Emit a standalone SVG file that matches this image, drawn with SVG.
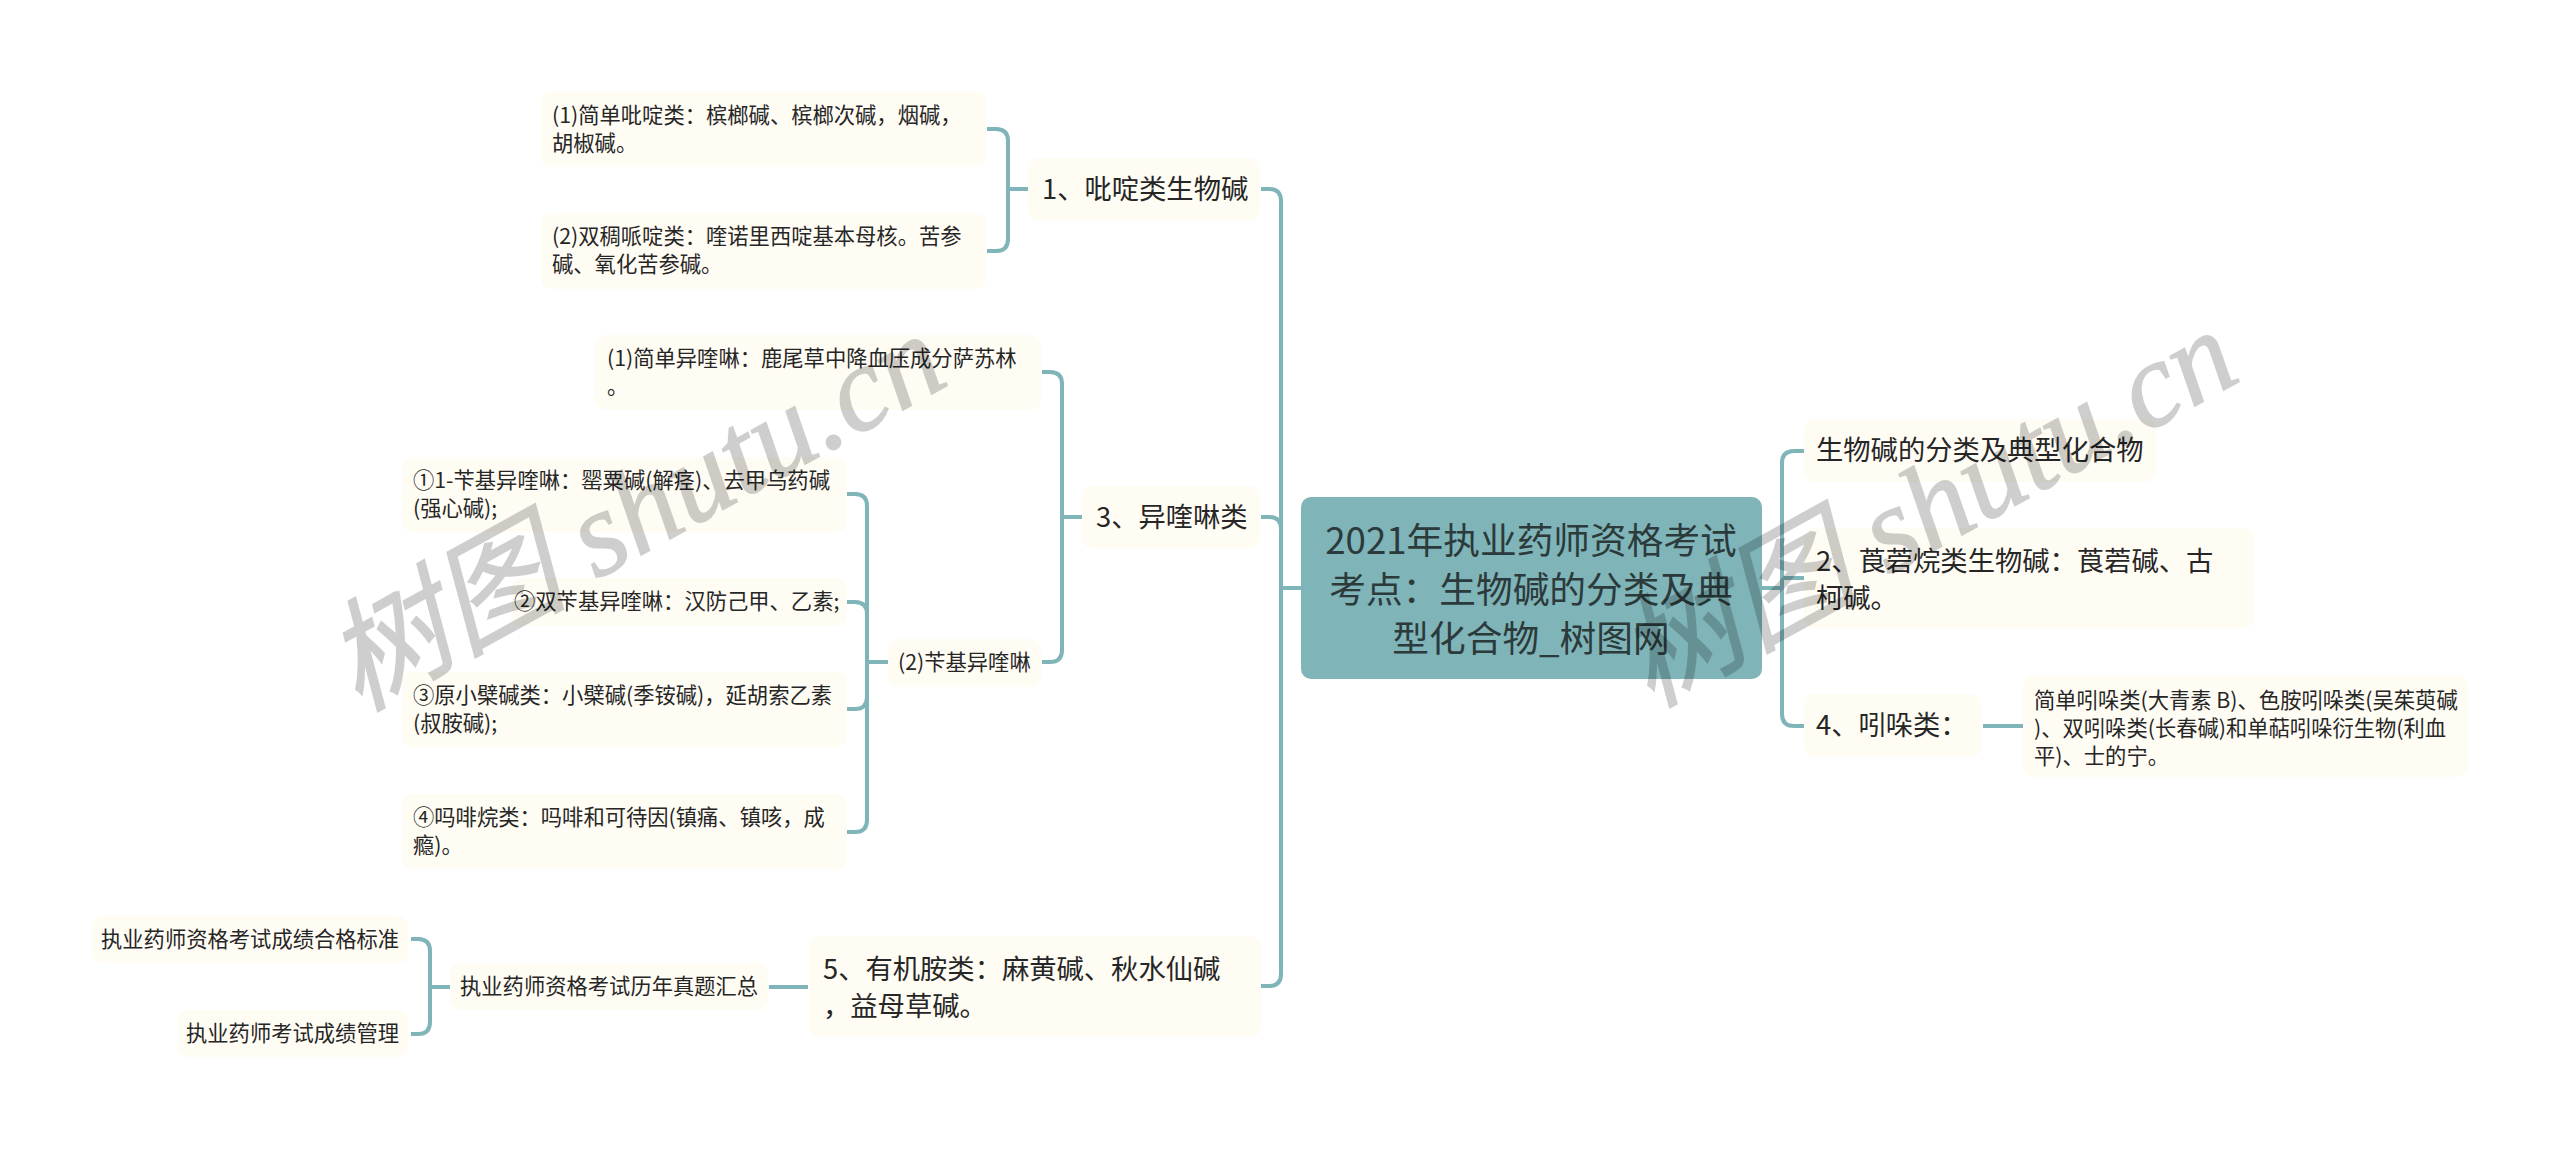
<svg xmlns="http://www.w3.org/2000/svg" width="2560" height="1149" viewBox="0 0 2560 1149">
<style>
text{font-family:"Noto Sans CJK SC","Noto Sans",sans-serif;fill:#262626}
.n{fill:#fffcf4}
.s{font-size:21.3px}
.m{font-size:27.3px}
.r{font-size:36.7px;fill:#2c3a3b;text-anchor:middle}
.c{fill:none;stroke:#7fb4b8;stroke-width:4;stroke-linecap:butt}
.w{font-family:"Liberation Serif","Noto Sans CJK SC",serif;font-style:italic;font-size:121px;fill:#000;stroke:#000;stroke-width:1.5;opacity:.19}
</style>
<rect width="2560" height="1149" fill="#fff"/>
<g id="connectors">
<path class="c" d="M1301 588H1281M1261 189H1269Q1281 189 1281 201V974Q1281 986 1269 986H1261M1261 517H1269Q1281 517 1281 529V540"/>
<path class="c" d="M987 129H996Q1008 129 1008 141V239Q1008 251 996 251H987M1008 189H1028"/>
<path class="c" d="M1042 372H1050Q1062 372 1062 384V650Q1062 662 1050 662H1042M1062 517H1082"/>
<path class="c" d="M847 494H855Q867 494 867 506V820Q867 832 855 832H847M847 602H855Q867 602 867 614M847 709H855Q867 709 867 697M867 662H888"/>
<path class="c" d="M411 939H418Q430 939 430 951V1022Q430 1034 418 1034H411M430 987H450M769 987H808"/>
<path class="c" d="M1762 588H1782M1804 451H1794Q1782 451 1782 463V714Q1782 726 1794 726H1804M1782 578H1804M1983 726H2023"/>
</g>
<g id="n-a1"><rect class="n" x="541" y="92" width="445" height="75" rx="10"/><text class="s" x="552" y="123">(1)简单吡啶类：槟榔碱、槟榔次碱，烟碱，</text><text class="s" x="552" y="151">胡椒碱。</text></g>
<g id="n-a2"><rect class="n" x="541" y="213" width="445" height="76" rx="10"/><text class="s" x="552" y="244">(2)双稠哌啶类：喹诺里西啶基本母核。苦参</text><text class="s" x="552" y="272">碱、氧化苦参碱。</text></g>
<g id="n-1"><rect class="n" x="1028" y="158" width="232" height="63" rx="10"/><text class="m" x="1042" y="199">1、吡啶类生物碱</text></g>
<g id="n-b1"><rect class="n" x="595" y="335" width="446" height="75" rx="10"/><text class="s" x="607" y="366">(1)简单异喹啉：鹿尾草中降血压成分萨苏林</text><text class="s" x="607" y="394">。</text></g>
<g id="n-3"><rect class="n" x="1082" y="486" width="178" height="62" rx="10"/><text class="m" x="1096" y="527">3、异喹啉类</text></g>
<g id="n-b2"><rect class="n" x="888" y="639" width="153" height="48" rx="10"/><text class="s" x="898" y="670">(2)苄基异喹啉</text></g>
<g id="n-c1"><rect class="n" x="402" y="457" width="445" height="75" rx="10"/><text class="s" x="413" y="488">①1-苄基异喹啉：罂粟碱(解痉)、去甲乌药碱</text><text class="s" x="413" y="516">(强心碱);</text></g>
<g id="n-c2"><rect class="n" x="512" y="578" width="335" height="48" rx="10"/><text class="s" x="514" y="609">②双苄基异喹啉：汉防己甲、乙素;</text></g>
<g id="n-c3"><rect class="n" x="402" y="672" width="445" height="75" rx="10"/><text class="s" x="413" y="703">③原小檗碱类：小檗碱(季铵碱)，延胡索乙素</text><text class="s" x="413" y="731">(叔胺碱);</text></g>
<g id="n-c4"><rect class="n" x="402" y="794" width="445" height="75" rx="10"/><text class="s" x="413" y="825">④吗啡烷类：吗啡和可待因(镇痛、镇咳，成</text><text class="s" x="413" y="853">瘾)。</text></g>
<g id="n-d1"><rect class="n" x="92" y="916" width="316" height="47" rx="10"/><text class="s" x="101" y="947">执业药师资格考试成绩合格标准</text></g>
<g id="n-d2"><rect class="n" x="177" y="1010" width="231" height="47" rx="10"/><text class="s" x="186" y="1041">执业药师考试成绩管理</text></g>
<g id="n-e"><rect class="n" x="450" y="963" width="318" height="47" rx="10"/><text class="s" x="460" y="994">执业药师资格考试历年真题汇总</text></g>
<g id="n-5"><rect class="n" x="809" y="936" width="452" height="101" rx="10"/><text class="m" x="823" y="979">5、有机胺类：麻黄碱、秋水仙碱</text><text class="m" x="823" y="1016">，益母草碱。</text></g>
<g id="root"><rect x="1301" y="497" width="461" height="182" rx="10" fill="#7fb4b8"/><text class="r" x="1531" y="554">2021年执业药师资格考试</text><text class="r" x="1531" y="603">考点：生物碱的分类及典</text><text class="r" x="1531" y="652">型化合物_树图网</text></g>
<g id="n-r1"><rect class="n" x="1804" y="419" width="352" height="63" rx="10"/><text class="m" x="1816" y="460">生物碱的分类及典型化合物</text></g>
<g id="n-r2"><rect class="n" x="1804" y="528" width="450" height="100" rx="10"/><text class="m" x="1816" y="571">2、莨菪烷类生物碱：莨菪碱、古</text><text class="m" x="1816" y="608">柯碱。</text></g>
<g id="n-r4"><rect class="n" x="1804" y="694" width="177" height="63" rx="10"/><text class="m" x="1816" y="735">4、吲哚类：</text></g>
<g id="n-r5"><rect class="n" x="2023" y="675" width="445" height="102" rx="10"/><text class="s" x="2034" y="708">简单吲哚类(大青素 B)、色胺吲哚类(吴茱萸碱</text><text class="s" x="2034" y="736">)、双吲哚类(长春碱)和单萜吲哚衍生物(利血</text><text class="s" x="2034" y="764">平)、士的宁。</text></g>
<text class="w" transform="translate(358 712) rotate(-29)">树图 shutu.cn</text>
<text class="w" transform="translate(1650 708) rotate(-29)">树图 shutu.cn</text>
</svg>
